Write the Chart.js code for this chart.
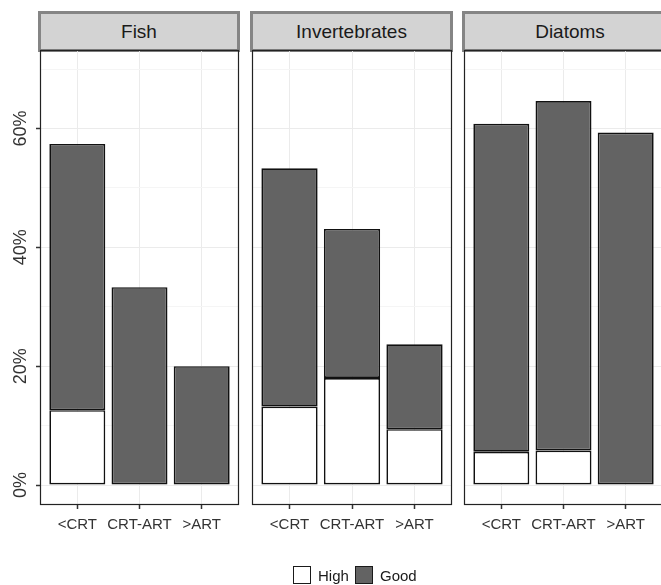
<!DOCTYPE html>
<html>
<head>
<meta charset="utf-8">
<script src="https://cdn.jsdelivr.net/npm/chart.js@4.4.1/dist/chart.umd.min.js"></script>
<style>
  html, body { margin: 0; padding: 0; background: #fff; }
  body { width: 661px; height: 585px; position: relative; overflow: hidden; font-family: "Liberation Sans", Arial, sans-serif; }
  canvas { position: absolute; left: 0; top: 0; }
  .strip { position: absolute; top: 11px; height: 35px; background: #d3d3d3; border: 3px solid #858585;
           color: #1a1a1a; font-size: 19px; text-align: center; line-height: 35px; box-sizing: content-box; }
  .legend { position: absolute; top: 566px; left: 0; width: 661px; height: 19px; font-size: 15px; color: #1a1a1a; }
  .key { position: absolute; top: 0; width: 16px; height: 16px; border: 1.3px solid #1a1a1a; }
  .lab { position: absolute; top: 0; line-height: 19px; }
</style>
</head>
<body>
<div class="strip" style="left:38px;width:196px;">Fish</div>
<div class="strip" style="left:250px;width:197px;">Invertebrates</div>
<div class="strip" style="left:462px;width:210px;">Diatoms</div>

<canvas id="c0" width="700" height="585"></canvas>
<canvas id="c1" width="700" height="585"></canvas>
<canvas id="c2" width="700" height="585"></canvas>

<div class="legend">
  <div class="key" style="left:293px;background:#ffffff;"></div>
  <div class="lab" style="left:318px;">High</div>
  <div class="key" style="left:355px;background:#636363;"></div>
  <div class="lab" style="left:380px;">Good</div>
</div>

<script>
// data (percent of sites)
const categories = ['<CRT', 'CRT-ART', '>ART'];
const panels = ['Fish', 'Invertebrates', 'Diatoms'];
const highFish = [12.6, 0, 0];
const goodFish = [44.8, 33.3, 20.0];
const highInv = [13.2, 18.0, 9.4];
const goodInv = [40.1, 25.1, 14.3];
const highDia = [5.6, 5.8, 0];
const goodDia = [55.2, 58.8, 59.3];
const yTicks = [0, 20, 40, 60];
const yGrid = [0, 10, 20, 30, 40, 50, 60, 70];

const highSeries = [highFish, highInv, highDia];
const goodSeries = [goodFish, goodInv, goodDia];

// panel placement (plot area edges in px)
const panelBox = [
    { left: 40, right: 239 },
    { left: 252, right: 452 },
    { left: 464, right: 663 }
];
const CANVAS_W = 700;
const TOP = 50, BOTTOM = 505;

const axisColor = '#333333';

function toPoints(arr) {
    return arr.map((v, i) => ({ x: i + 1, y: v }));
}

// y tick labels rotated like the original
const rotatedYLabels = {
    id: 'rotatedYLabels',
    afterDraw(chart, args, opts) {
        if (!opts.show) return;
        const ctx = chart.ctx;
        const y = chart.scales.y;
        ctx.save();
        ctx.font = '18px "Liberation Sans", Arial, sans-serif';
        ctx.fillStyle = axisColor;
        ctx.textAlign = 'center';
        ctx.textBaseline = 'middle';
        yTicks.forEach(v => {
            ctx.save();
            ctx.translate(21, y.getPixelForValue(v));
            ctx.rotate(-Math.PI / 2);
            ctx.fillText(v + '%', 0, 0);
            ctx.restore();
        });
        ctx.restore();
    }
};

// panel border
const panelBorder = {
    id: 'panelBorder',
    afterDatasetsDraw(chart) {
        const a = chart.chartArea;
        const ctx = chart.ctx;
        ctx.save();
        ctx.strokeStyle = '#222';
        ctx.lineWidth = 1.2;
        ctx.strokeRect(a.left + 0.5, a.top + 0.5, a.right - a.left - 1, a.bottom - a.top - 1);
        ctx.restore();
    }
};

function makePanel(idx) {
    const box = panelBox[idx];
    const first = idx === 0;
    new Chart(document.getElementById('c' + idx), {
        type: 'bar',
        data: {
            datasets: [
                {
                    label: 'High',
                    data: toPoints(highSeries[idx]),
                    backgroundColor: '#ffffff',
                    borderColor: '#111111',
                    borderWidth: 1.7,
                    borderSkipped: false,
                    inflateAmount: 0
                },
                {
                    label: 'Good',
                    data: toPoints(goodSeries[idx]),
                    backgroundColor: '#636363',
                    borderColor: '#111111',
                    borderWidth: 1.7,
                    borderSkipped: false,
                    inflateAmount: 0
                }
            ]
        },
        options: {
            responsive: false,
            animation: false,
            events: [],
            layout: {
                padding: {
                    left: first ? 0 : box.left,
                    right: CANVAS_W - box.right,
                    top: TOP,
                    bottom: 585 - BOTTOM - 30
                }
            },
            datasets: {
                bar: { barPercentage: 0.9, categoryPercentage: 1.0 }
            },
            plugins: {
                legend: { display: false },
                tooltip: { enabled: false },
                rotatedYLabels: { show: first }
            },
            scales: {
                x: {
                    type: 'linear',
                    stacked: true,
                    offset: false,
                    min: 0.4,
                    max: 3.6,
                    afterBuildTicks: (s) => { s.ticks = categories.map((c, i) => ({ value: i + 1 })); },
                    afterFit: (s) => { s.height = 30; },
                    border: { display: false },
                    grid: {
                        offset: false,
                        color: '#ebebeb',
                        lineWidth: 1,
                        drawTicks: true,
                        tickLength: 4,
                        tickColor: axisColor,
                        tickWidth: 1.5
                    },
                    ticks: {
                        autoSkip: false,
                        maxRotation: 0,
                        padding: 7,
                        color: axisColor,
                        font: { family: '"Liberation Sans", Arial, sans-serif', size: 15 },
                        callback: (v) => categories[Math.round(v) - 1]
                    }
                },
                y: {
                    type: 'linear',
                    stacked: true,
                    min: -3.36,
                    max: 73.2,
                    afterBuildTicks: (s) => { s.ticks = yGrid.map(v => ({ value: v })); },
                    afterFit: (s) => { s.width = first ? 40 : 0; },
                    border: { display: false },
                    grid: {
                        color: (c) => (c.tick && c.tick.value % 20 === 0) ? '#ebebeb' : '#f5f5f5',
                        lineWidth: 1,
                        drawTicks: first,
                        tickLength: 4,
                        tickWidth: 1.5,
                        tickColor: (c) => (c.tick && c.tick.value % 20 === 0) ? axisColor : 'rgba(0,0,0,0)'
                    },
                    ticks: { display: false }
                }
            }
        },
        plugins: [rotatedYLabels, panelBorder]
    });
}

panels.forEach((p, i) => makePanel(i));
</script>
</body>
</html>
